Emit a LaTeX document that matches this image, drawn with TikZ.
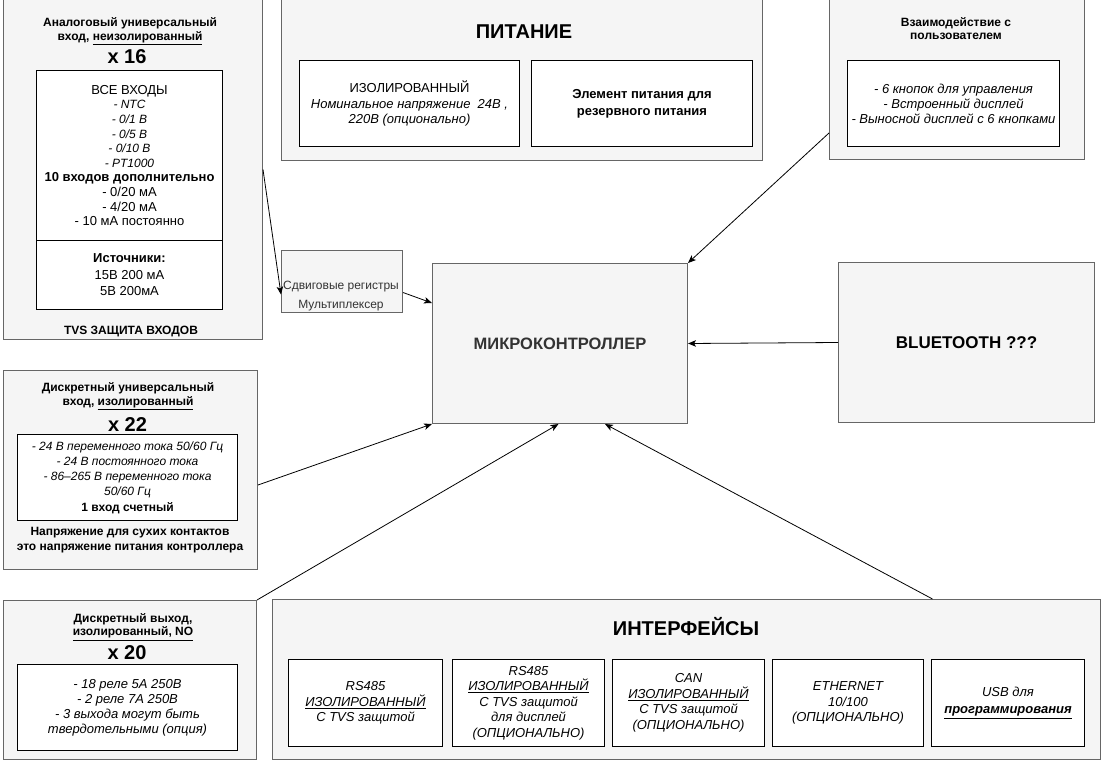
\documentclass[tikz,border=0pt]{standalone}
\usepackage{fontspec}
\setmainfont{Liberation Sans}
\usetikzlibrary{arrows.meta}
\definecolor{grpfill}{HTML}{F5F5F5}
\definecolor{grpline}{HTML}{666666}
\definecolor{grptext}{HTML}{333333}
\begin{document}
\begin{tikzpicture}[x=1pt,y=-1pt,
  grp/.style={draw=grpline,fill=grpfill,line width=1pt,anchor=north west,inner sep=0pt},
  wbox/.style={draw=black,fill=white,line width=1pt,anchor=north west,inner sep=0pt,
    align=center,font=\fontsize{12}{15}\selectfont},
  ttl/.style={align=center,font=\bfseries\fontsize{12}{13.5}\selectfont},
  big/.style={font=\bfseries\fontsize{20}{22}\selectfont},
  arr/.style={-{Stealth[length=8pt,width=6.5pt,inset=2pt]},line width=0.8pt}]
\useasboundingbox (0,0) rectangle (1103,770);

% analog inputs
\node[grp,minimum width=259pt,minimum height=340pt] (analog) at (3,-1) {};
\node[ttl] (analog title) at (130,31.5) {Аналоговый универсальный\\вход, \underline{неизолированный}};
\node[big] (analog count) at (127,57) {x 16};
\node[wbox,minimum width=186pt,minimum height=170pt,font=\fontsize{12}{14.6}\selectfont]
  (analog list) at (36,70) {{\fontsize{13}{14.6}\selectfont ВСЕ ВХОДЫ}\\\itshape - NTC\\\itshape - 0/1 В\\
  \itshape - 0/5 В\\\itshape - 0/10 В\\\itshape - PT1000\\{\bfseries\fontsize{13}{14.6}\selectfont 10 входов дополнительно}\\
  \fontsize{13}{14.6}\selectfont - 0/20 мА\\\fontsize{13}{14.6}\selectfont - 4/20 мА\\
  \fontsize{13}{14.6}\selectfont - 10 мА постоянно};
\node[wbox,minimum width=186pt,minimum height=69pt,font=\fontsize{13}{16.5}\selectfont]
  (analog src) at (36,240) {\textbf{Источники:}\\15В 200 мА\\5В 200мА};
\node[ttl] (analog tvs) at (131,332) {TVS ЗАЩИТА ВХОДОВ};

% power
\node[grp,minimum width=481pt,minimum height=161pt] (power) at (281,-1) {};
\node[big] (power title) at (524,32) {ПИТАНИЕ};
\node[wbox,minimum width=220pt,minimum height=86pt,font=\fontsize{13}{15.5}\selectfont]
  (power main) at (299,60) {ИЗОЛИРОВАННЫЙ\\\itshape Номинальное напряжение~~24В ,\\\itshape 220В (опционально)};
\node[wbox,minimum width=221pt,minimum height=86pt,font=\bfseries\fontsize{13}{17}\selectfont]
  (power bat) at (531,60) {Элемент питания для\\резервного питания};

% user interaction
\node[grp,minimum width=255pt,minimum height=160pt] (user) at (829,-1) {};
\node[ttl] (user title) at (956,28.5) {Взаимодействие с\\пользователем};
\node[wbox,minimum width=212pt,minimum height=86pt,font=\itshape\fontsize{13}{15}\selectfont]
  (user list) at (847,60) {- 6 кнопок для управления\\- Встроенный дисплей\\- Выносной дисплей с 6 кнопками};

% shift registers
\node[grp,minimum width=121pt,minimum height=62pt] (shift) at (281,250) {};
\node[align=center,text=grptext,font=\fontsize{12}{19}\selectfont] (shift text) at (341,296.5)
  {Сдвиговые регистры\\Мультиплексер};

% controller
\node[grp,minimum width=255pt,minimum height=160pt,text=grptext,font=\bfseries\fontsize{16.5}{18}\selectfont]
  (mcu) at (432,263) {МИКРОКОНТРОЛЛЕР};
\node[grp,minimum width=256pt,minimum height=160pt,font=\bfseries\fontsize{17}{18}\selectfont]
  (bt) at (838,262) {BLUETOOTH ???};

% discrete inputs
\node[grp,minimum width=254pt,minimum height=199pt] (din) at (3,370) {};
\node[ttl] (din title) at (128,396.5) {Дискретный универсальный\\вход, \underline{изолированный}};
\node[big] (din count) at (127.5,425) {x 22};
\node[wbox,minimum width=220pt,minimum height=86pt,font=\fontsize{12}{15.3}\selectfont]
  (din list) at (17,434) {\itshape - 24 В переменного тока 50/60 Гц\\\itshape - 24 В постоянного тока\\
  \itshape - 86–265 В переменного тока\\\itshape 50/60 Гц\\\textbf{1 вход счетный}};
\node[ttl,font=\bfseries\fontsize{12}{15}\selectfont] (din note) at (130,540.5)
  {Напряжение для сухих контактов\\это напряжение питания контроллера};

% discrete outputs
\node[grp,minimum width=253pt,minimum height=159pt] (dout) at (3,600) {};
\node[ttl] (dout title) at (133,627) {Дискретный выход,\\\underline{изолированный, NO}};
\node[big] (dout count) at (127,653) {x 20};
\node[wbox,minimum width=220pt,minimum height=86pt,font=\itshape\fontsize{13}{15}\selectfont]
  (dout list) at (17,664) {- 18 реле 5А 250В\\- 2 реле 7А 250В\\- 3 выхода могут быть\\твердотельными (опция)};

% interfaces
\node[grp,minimum width=828pt,minimum height=160pt] (iface) at (272,599) {};
\node[big] (iface title) at (686,627) {ИНТЕРФЕЙСЫ};
\node[wbox,minimum width=154pt,minimum height=87pt,font=\itshape\fontsize{13}{15.5}\selectfont]
  (rs1) at (288,659) {RS485\\\underline{ИЗОЛИРОВАННЫЙ}\\С TVS защитой};
\node[wbox,minimum width=152pt,minimum height=87pt,font=\itshape\fontsize{13}{15.5}\selectfont]
  (rs2) at (452,659) {RS485\\\underline{ИЗОЛИРОВАННЫЙ}\\С TVS защитой\\для дисплей\\(ОПЦИОНАЛЬНО)};
\node[wbox,minimum width=152pt,minimum height=87pt,font=\itshape\fontsize{13}{15.5}\selectfont]
  (can) at (612,659) {CAN\\\underline{ИЗОЛИРОВАННЫЙ}\\С TVS защитой\\(ОПЦИОНАЛЬНО)};
\node[wbox,minimum width=151pt,minimum height=87pt,font=\itshape\fontsize{13}{15.5}\selectfont]
  (eth) at (772,659) {ETHERNET\\10/100\\(ОПЦИОНАЛЬНО)};
\node[wbox,minimum width=153pt,minimum height=87pt,font=\itshape\fontsize{13}{17}\selectfont]
  (usb) at (931,659) {USB для\\\textbf{\underline{программирования}}};

% connections
\draw[arr] (analog.east) -- ([yshift=-13pt]shift.west);
\draw[arr] ([yshift=-11pt]shift.east) -- ([yshift=-40pt]mcu.north west);
\draw[arr] ([yshift=27pt]user.south west) -- (mcu.north east);
\draw[arr] (bt.west) -- (mcu.east);
\draw[arr] ([yshift=-15pt]din.east) -- (mcu.south west);
\draw[arr] (dout.north east) -- ([xshift=-1.5pt]mcu.south);
\draw[arr] ([xshift=246pt]iface.north) -- ([xshift=45pt]mcu.south);
\end{tikzpicture}
\end{document}
